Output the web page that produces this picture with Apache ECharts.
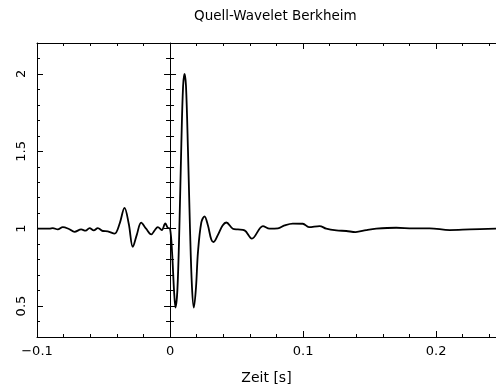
<!DOCTYPE html>
<html>
<head>
<meta charset="utf-8">
<script src="https://cdn.jsdelivr.net/npm/echarts@6/dist/echarts.min.js"></script>
<style>
  html, body { margin: 0; padding: 0; background: #fff; }
  #chart { width: 496px; height: 390px; }
</style>
</head>
<body>
<div id="chart"></div>
<script>
// Zeitachse [s] und Amplitude des Quell-Wavelets
const timeValues = [
  -0.1, -0.095, -0.0906, -0.0881, -0.0844, -0.0806, -0.076, -0.0718, -0.0668, -0.0635,
  -0.0605, -0.0573, -0.0543, -0.0505, -0.0468, -0.0417, -0.038, -0.0342, -0.031, -0.028,
  -0.025, -0.0217, -0.018, -0.0141, -0.0115, -0.0092, -0.0062, -0.0036, -0.0017, 0,
  0.0015, 0.003, 0.0041, 0.0055, 0.007, 0.0085, 0.0098, 0.0109, 0.012, 0.0135,
  0.015, 0.0165, 0.0179, 0.0195, 0.021, 0.0235, 0.0259, 0.0285, 0.031, 0.0327,
  0.036, 0.0395, 0.0423, 0.0472, 0.051, 0.056, 0.0615, 0.0698, 0.0748, 0.0811,
  0.0861, 0.0923, 0.0998, 0.1044, 0.1124, 0.1174, 0.125, 0.1325, 0.1395, 0.1475,
  0.155, 0.17, 0.1826, 0.1951, 0.2102, 0.2252, 0.245
]
const amplitudeValues = [
  1.0, 1.0, 1.0, 1.004, 0.995, 1.01, 0.998, 0.98, 0.995, 0.987,
  1.004, 0.989, 1.004, 0.985, 0.983, 0.968, 1.03, 1.135, 1.03, 0.882,
  0.96, 1.039, 1.0, 0.963, 0.99, 1.01, 0.991, 1.034, 1.006, 1.0,
  0.85, 0.6, 0.49, 0.6, 1.0, 1.55, 1.92, 2.0, 1.92, 1.5,
  1.0, 0.62, 0.49, 0.62, 0.85, 1.04, 1.08, 1.02, 0.93, 0.914,
  0.96, 1.02, 1.04, 1.0, 0.995, 0.989, 0.936, 1.017, 1.0, 1.002,
  1.021, 1.033, 1.032, 1.01, 1.017, 1.0, 0.989, 0.985, 0.978, 0.991,
  1.0, 1.006, 1.002, 1.002, 0.991, 0.995, 1.0
]

// Achsenbeschriftung und Teilstriche
const xMajorTicks = [-0.1, 0, 0.1, 0.2]
const xMinorTicks = [-0.08, -0.06, -0.04, -0.02, 0.02, 0.04, 0.06, 0.08, 0.12, 0.14, 0.16, 0.18, 0.22, 0.24]
const yMajorTicks = [0.5, 1, 1.5, 2]
const yMinorTicks = [0.3, 0.4, 0.6, 0.7, 0.8, 0.9, 1.1, 1.2, 1.3, 1.4, 1.6, 1.7, 1.8, 1.9, 2.1]

const X_MIN = -0.1
const X_MAX = 0.245
const Y_MIN = 0.3
const Y_MAX = 2.2

const FONT = 'DejaVu Sans'
const black = '#000'

const chart = echarts.init(document.getElementById('chart'))

// Hilfsfunktion: Achse, die nur Teilstriche (und evtl. die Linie) zeichnet
const tickAxis = (base, values, length, inside, showLine) => ({
  type: 'value',
  min: base === 'x' ? X_MIN : Y_MIN,
  max: base === 'x' ? X_MAX : Y_MAX,
  axisLine: { show: !!showLine, onZero: false, lineStyle: { color: black, width: 1 } },
  axisTick: { show: true, inside: inside, length: length, customValues: values, lineStyle: { color: black, width: 1 } },
  axisLabel: { show: false },
  splitLine: { show: false }
})

const fmt = (v) => {
  if (v === 0) return '0'
  return String(v).replace('-', '\u2212')
}

const option = {
  animation: false,
  title: {
    text: 'Quell-Wavelet Berkheim',
    left: 189,
    top: 4,
    textStyle: { fontFamily: FONT, fontSize: 13.5, fontWeight: 'normal', color: black }
  },
  grid: { left: 37, right: 0, top: 43, bottom: 52 },
  xAxis: [
    {
      type: 'value',
      position: 'bottom',
      min: X_MIN,
      max: X_MAX,
      name: 'Zeit [s]',
      nameLocation: 'middle',
      nameGap: 34,
      nameTextStyle: { fontFamily: FONT, fontSize: 14, color: black },
      axisLine: { show: true, onZero: false, lineStyle: { color: black, width: 1 } },
      axisTick: { inside: true, length: 6, customValues: xMajorTicks, lineStyle: { color: black } },
      axisLabel: {
        customValues: xMajorTicks,
        formatter: fmt,
        margin: 8,
        fontFamily: FONT,
        fontSize: 13,
        color: black
      },
      splitLine: { show: false }
    },
    Object.assign(tickAxis('x', xMinorTicks, 3, true, false), { position: 'bottom' }),
    Object.assign(tickAxis('x', xMajorTicks, 6, true, true), { position: 'top' }),
    Object.assign(tickAxis('x', xMinorTicks, 3, true, false), { position: 'top' })
  ],
  yAxis: [
    {
      type: 'value',
      position: 'left',
      min: Y_MIN,
      max: Y_MAX,
      axisLine: { show: true, onZero: false, lineStyle: { color: black, width: 1 } },
      axisTick: { inside: true, length: 6, customValues: yMajorTicks, lineStyle: { color: black } },
      axisLabel: {
        customValues: yMajorTicks,
        rotate: 90,
        margin: 9,
        fontFamily: FONT,
        fontSize: 13,
        color: black
      },
      splitLine: { show: false }
    },
    Object.assign(tickAxis('y', yMinorTicks, 3, true, false), { position: 'left' }),
    // senkrechte Linie bei t = 0 mit Teilstrichen nach beiden Seiten
    Object.assign(tickAxis('y', yMajorTicks, 6, true, true), { position: 'left' }),
    Object.assign(tickAxis('y', yMajorTicks, 6, false, false), { position: 'left' }),
    Object.assign(tickAxis('y', yMinorTicks, 4, true, false), { position: 'left' }),
    Object.assign(tickAxis('y', yMinorTicks, 4, false, false), { position: 'left' })
  ],
  series: [
    {
      type: 'line',
      xAxisIndex: 0,
      yAxisIndex: 0,
      data: timeValues.map((t, i) => [t, amplitudeValues[i]]),
      smooth: 0.35,
      showSymbol: false,
      silent: true,
      lineStyle: { color: black, width: 1.8 }
    }
  ]
}

// Achsen 2-5 liegen auf der Nulllinie der Zeitachse
for (let i = 2; i <= 5; i++) {
  option.yAxis[i].axisLine.onZero = true
  option.yAxis[i].axisLine.onZeroAxisIndex = 0
}

chart.setOption(option)
</script>
</body>
</html>
